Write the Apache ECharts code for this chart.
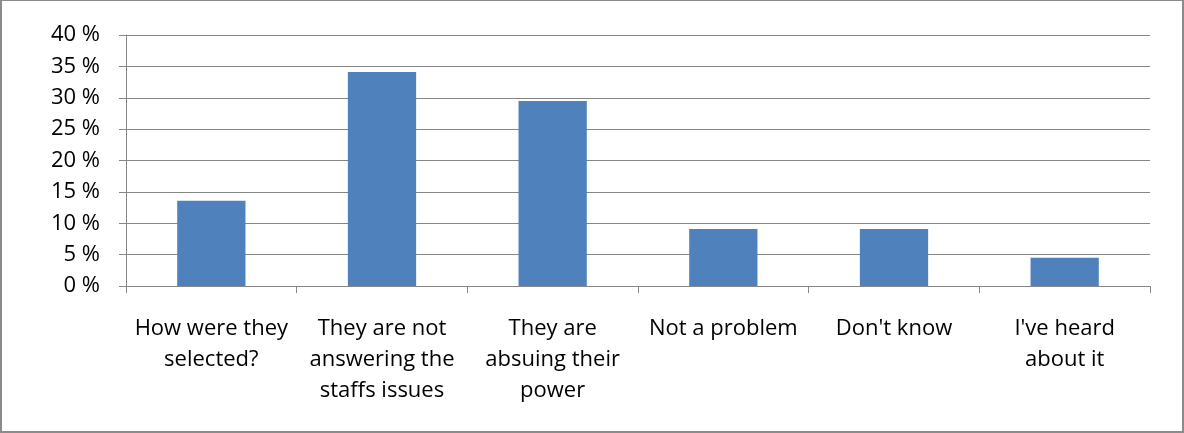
<!DOCTYPE html>
<html>
<head>
<meta charset="utf-8">
<script src="https://cdn.jsdelivr.net/npm/echarts@6/dist/echarts.min.js"></script>
<style>
html,body{margin:0;padding:0;background:#fff;}
#wrap{position:absolute;left:0;top:0;width:1184px;height:433px;box-sizing:border-box;border:2px solid #8c8c8c;border-top-width:1.5px;}
#chart{position:absolute;left:0;top:0;width:1184px;height:433px;}
</style>
</head>
<body>
<div id="wrap"></div>
<div id="chart"></div>
<script>
const categories = [
  "How were they\nselected?",
  "They are not\nanswering the\nstaffs issues",
  "They are\nabsuing their\npower",
  "Not a problem",
  "Don't know",
  "I've heard\nabout it"
];
const values = [13.6, 34.1, 29.5, 9.1, 9.1, 4.5];
const yTicks = [0, 5, 10, 15, 20, 25, 30, 35, 40];

const chart = echarts.init(document.getElementById('chart'), null, {renderer: 'canvas'});
const font = "Open Sans";
chart.setOption({
  animation: false,
  grid: {left: 126, right: 34, top: 35, bottom: 147, containLabel: false},
  xAxis: {
    type: 'category',
    data: categories,
    boundaryGap: true,
    axisLine: {show: true, lineStyle: {color: '#868686', width: 1}},
    axisTick: {show: true, alignWithLabel: false, length: 7, lineStyle: {color: '#868686'}},
    axisLabel: {
      interval: 0, margin: 27, color: '#000', fontFamily: font, fontSize: 22, lineHeight: 31, align: 'center'
    }
  },
  yAxis: {
    type: 'value',
    min: yTicks[0], max: yTicks[yTicks.length - 1], interval: 5,
    axisLine: {show: true, lineStyle: {color: '#868686', width: 1}},
    axisTick: {show: true, length: 7, lineStyle: {color: '#868686'}},
    splitLine: {show: true, lineStyle: {color: '#868686', width: 1}},
    axisLabel: {
      margin: 26, color: '#000', fontFamily: font, fontSize: 22,
      formatter: v => v + ' %'
    }
  },
  series: [{
    type: 'bar',
    data: values,
    barWidth: '40%',
    itemStyle: {color: '#4F81BD'}
  }]
});
</script>
</body>
</html>
